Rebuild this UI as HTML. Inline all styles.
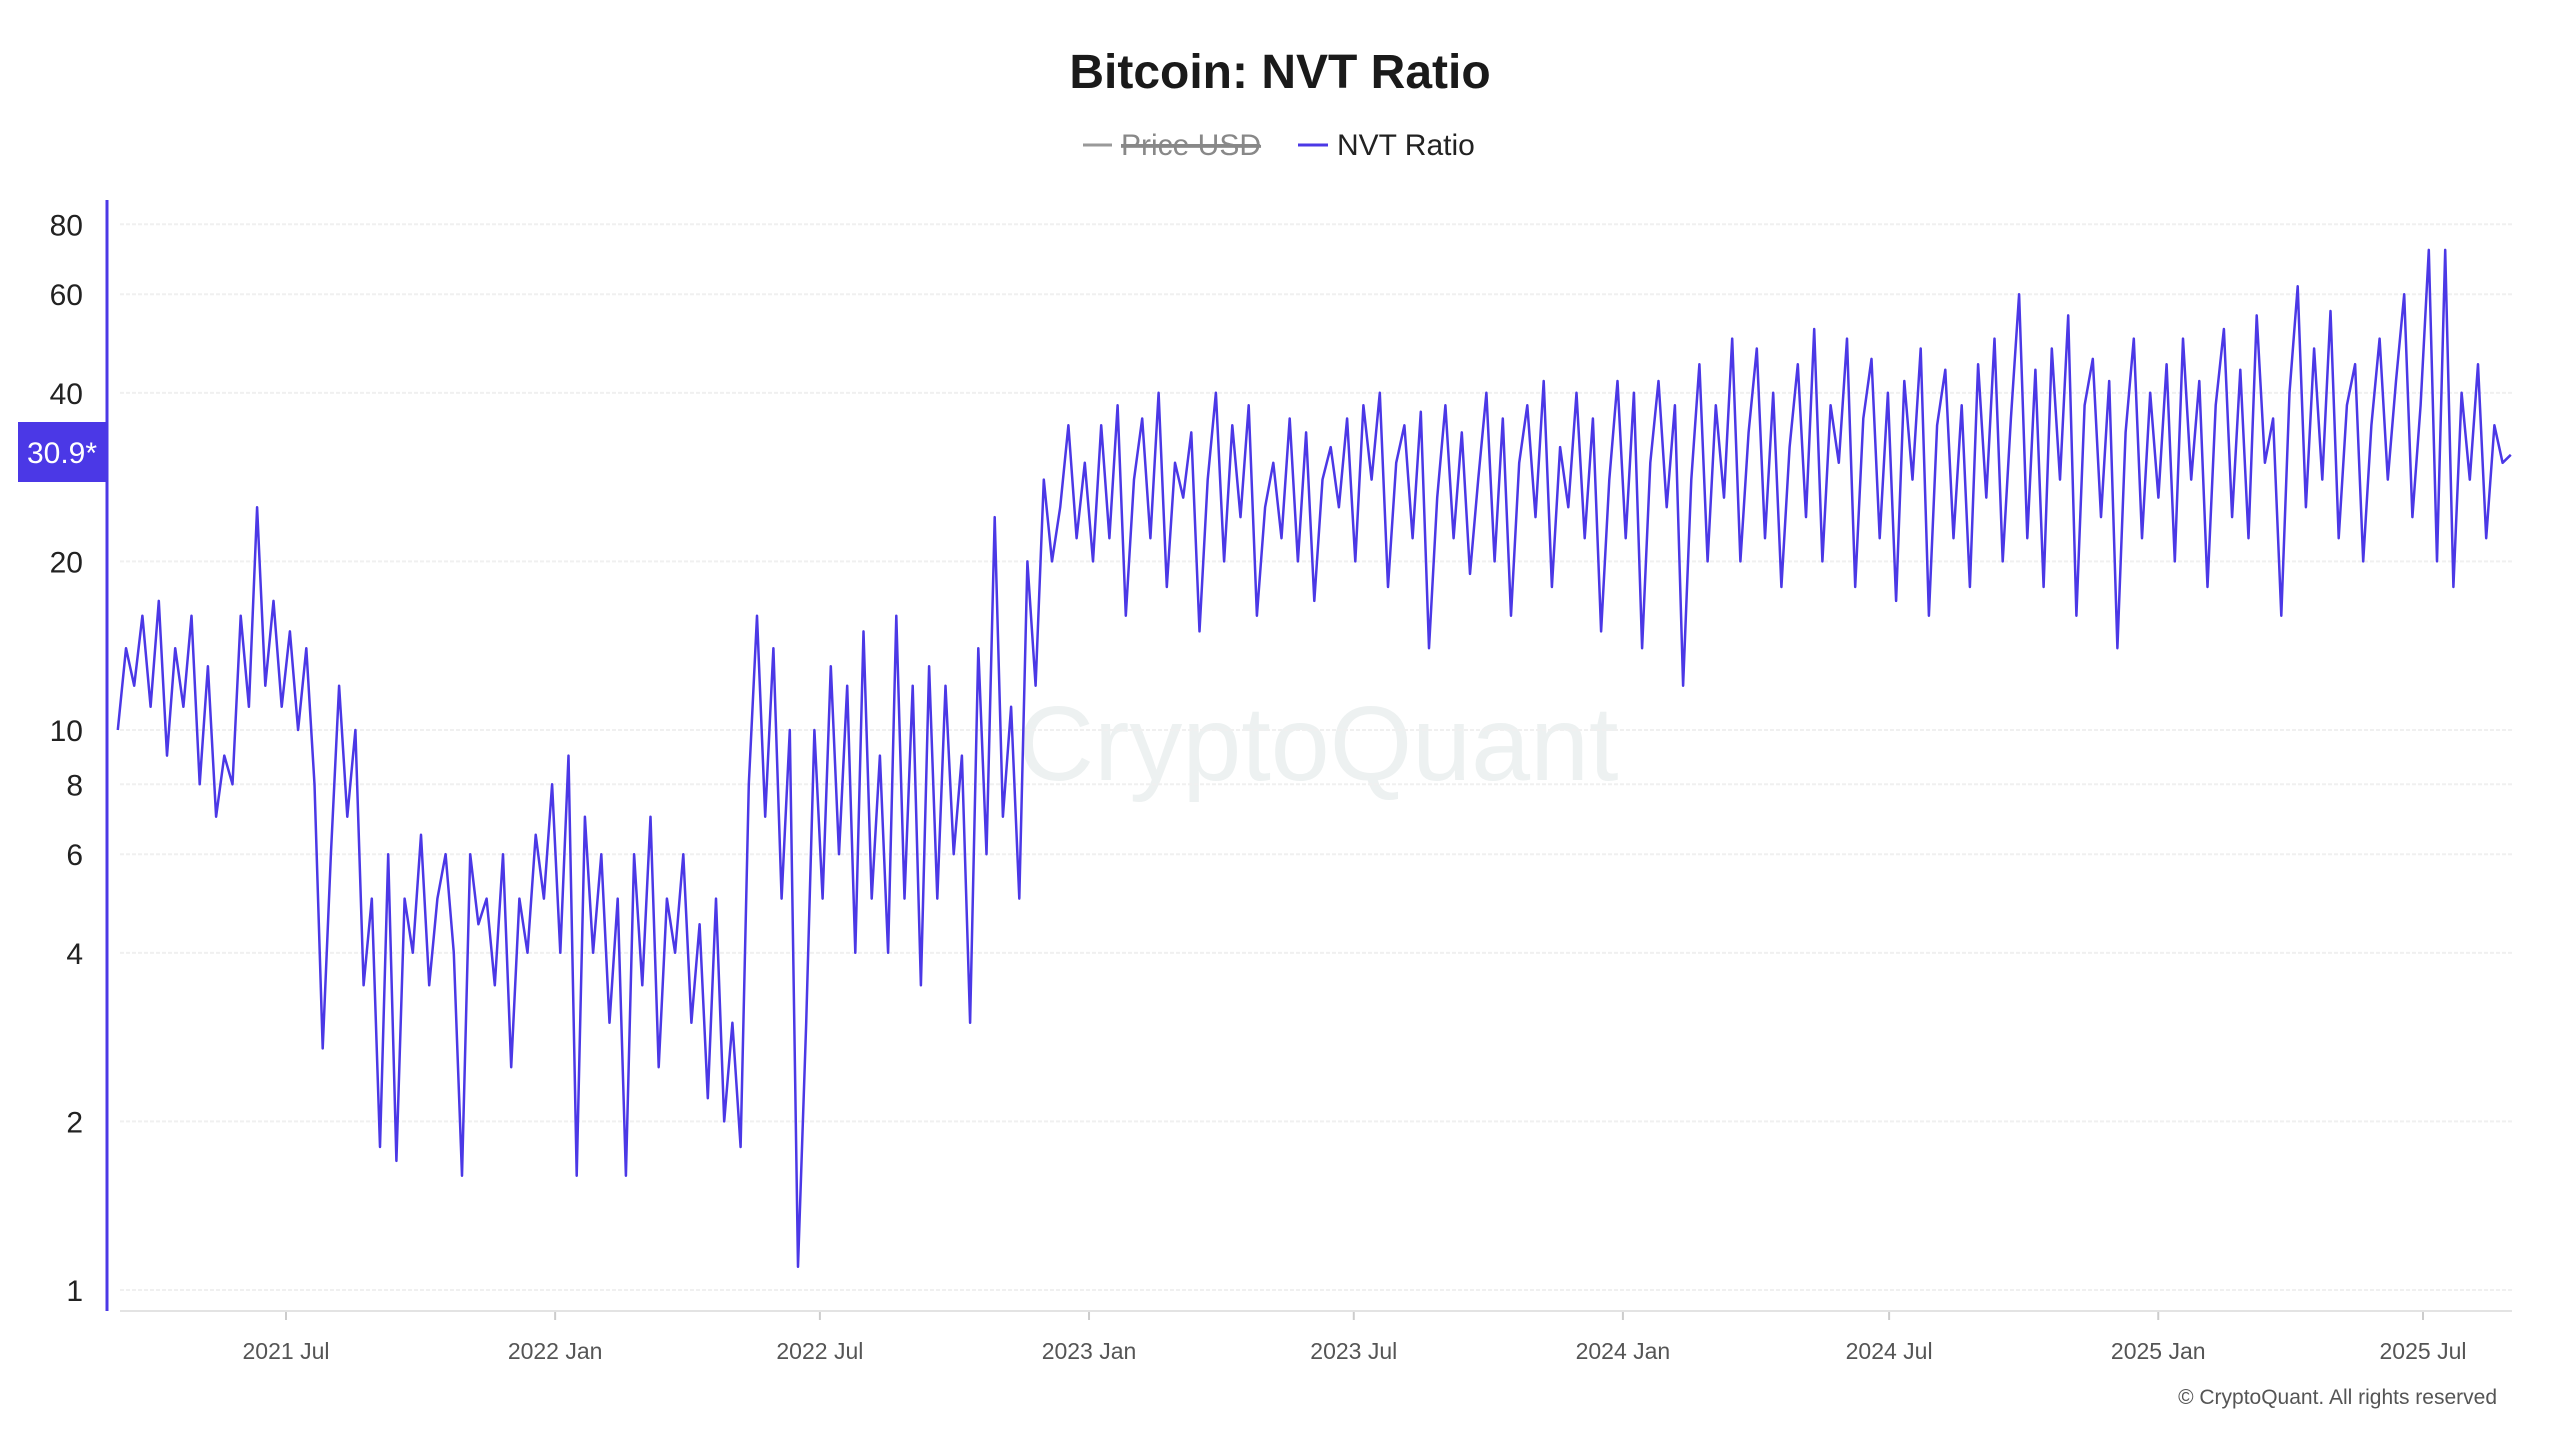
<!DOCTYPE html>
<html><head><meta charset="utf-8"><style>
html,body{margin:0;padding:0;background:#fff;width:2560px;height:1440px;overflow:hidden;font-family:"Liberation Sans",sans-serif}
</style></head><body>
<svg width="2560" height="1440" xmlns="http://www.w3.org/2000/svg">
<text x="1280" y="88" text-anchor="middle" font-size="48" font-weight="bold" fill="#1a1a1a">Bitcoin: NVT Ratio</text>
<g>
<line x1="1083" y1="145" x2="1112" y2="145" stroke="#999" stroke-width="3"/>
<text x="1121" y="155" font-size="30" fill="#888" text-decoration="line-through">Price USD</text>
<line x1="1121" y1="145" x2="1260" y2="145" stroke="#888" stroke-width="2"/>
</g>
<g>
<line x1="1298" y1="145" x2="1328" y2="145" stroke="#4b38e6" stroke-width="3"/>
<text x="1337" y="155" font-size="30" fill="#222">NVT Ratio</text>
</g>
<text x="1318" y="780" font-size="106" fill="#edf1f1" text-anchor="middle">CryptoQuant</text>
<g id="grid"></g>
<g id="yticks"></g>
<g id="xticks"></g>
<line x1="120" y1="1311" x2="2512" y2="1311" stroke="#e3e3e3" stroke-width="2"/>
<path id="series" fill="none" stroke="#4b38e6" stroke-width="2.5" stroke-linejoin="round"/>
<line x1="107" y1="200" x2="107" y2="1311" stroke="#4b38e6" stroke-width="3"/>
<rect x="18" y="422" width="89" height="60" fill="#4b38e6"/>
<text x="62" y="463" font-size="30" fill="#fff" text-anchor="middle">30.9*</text>
<text x="2497" y="1404" font-size="21" fill="#555" text-anchor="end">© CryptoQuant. All rights reserved</text>
</svg>
<script>
const yTickVals=[1,2,4,6,8,10,20,40,60,80];
const xTickLabels=["2021 Jul","2022 Jan","2022 Jul","2023 Jan","2023 Jul","2024 Jan","2024 Jul","2025 Jan","2025 Jul"];
const xTickDates=["2021-07-01","2022-01-01","2022-07-01","2023-01-01","2023-07-01","2024-01-01","2024-07-01","2025-01-01","2025-07-01"];
const startDate="2021-03-08";
const endDate="2025-08-30";
const nvtValues=[
10,14,12,16,11,17,9,14,11,16,8,13,7,9,8,16,11,25,12,17,
11,15,10,14,8,2.7,6,12,7,10,3.5,
5,1.8,6,1.7,5,4,6.5,3.5,5,6,4,1.6,6,4.5,5,3.5,6,2.5,5,4,6.5,5,
8,4,9,1.6,7,4,6,3,5,1.6,6,3.5,7,2.5,5,4,6,3,4.5,2.2,5,2,3,1.8,
8,16,7,14,5,10,1.1,3,
10,5,13,6,12,4,15,5,9,4,16,5,12,3.5,13,5,12,6,9,3,14,6,24,7,11,5,
20,12,28,20,25,35,22,
30,20,35,22,38,16,28,36,22,40,18,30,26,34,15,28,40,20,35,24,38,16,25,30,22,36,20,34,17,28,32,25,36,
20,38,28,40,18,30,35,22,37,14,26,38,22,34,19,28,40,20,36,16,30,38,24,42,18,32,25,40,22,36,15,28,42,
22,40,14,30,42,25,38,12,28,45,20,38,26,50,20,34,48,22,40,18,32,45,24,52,20,38,30,50,18,36,46,22,40,
17,42,28,48,16,35,44,22,38,18,45,26,50,20,36,60,22,44,18,48,28,55,16,38,46,24,42,14,34,50,22,40,26,
45,20,50,28,42,18,38,52,24,44,22,55,30,36,16,40,62,25,48,28,56,22,38,45,20,35,50,28,42,60,24,38,72,
20,72,18,40,28,45,22,35,30,31
];
const NS="http://www.w3.org/2000/svg";
const t0=Date.parse("2021-07-01"), t1=Date.parse("2025-07-01");
function xScale(t){return 286+(t-t0)/(t1-t0)*(2423-286);}
function yScale(v){return 1290-Math.log10(v)*560;}
const grid=document.getElementById('grid'), yt=document.getElementById('yticks'), xt=document.getElementById('xticks');
yTickVals.forEach(v=>{
  const y=yScale(v);
  const l=document.createElementNS(NS,'line');
  l.setAttribute('x1',120);l.setAttribute('x2',2512);l.setAttribute('y1',y);l.setAttribute('y2',y);
  l.setAttribute('stroke','#f0f0f0');l.setAttribute('stroke-width','2');l.setAttribute('stroke-dasharray','4 2');
  
  
  grid.appendChild(l);
  const t=document.createElementNS(NS,'text');
  t.setAttribute('x',83);t.setAttribute('y',y+11);t.setAttribute('text-anchor','end');
  t.setAttribute('font-size','30');t.setAttribute('fill','#222');t.textContent=v;
  
  
  yt.appendChild(t);
});
xTickDates.forEach((d,i)=>{
  const x=xScale(Date.parse(d));
  const l=document.createElementNS(NS,'line');
  l.setAttribute('x1',x);l.setAttribute('x2',x);l.setAttribute('y1',1311);l.setAttribute('y2',1320);
  l.setAttribute('stroke','#ccc');l.setAttribute('stroke-width','2');
  
  
  xt.appendChild(l);
  const t=document.createElementNS(NS,'text');
  t.setAttribute('x',x);t.setAttribute('y',1359);t.setAttribute('text-anchor','middle');
  t.setAttribute('font-size','23');t.setAttribute('fill','#555');t.textContent=xTickLabels[i];
  
  
  xt.appendChild(t);
});
const s=Date.parse(startDate), e=Date.parse(endDate), n=nvtValues.length;
let dStr='';
nvtValues.forEach((v,i)=>{
  const t=s+(e-s)*i/(n-1);
  dStr+=(i?'L':'M')+xScale(t).toFixed(1)+','+yScale(v).toFixed(1);
});
document.getElementById('series').setAttribute('d',dStr);
</script>
</body></html>
